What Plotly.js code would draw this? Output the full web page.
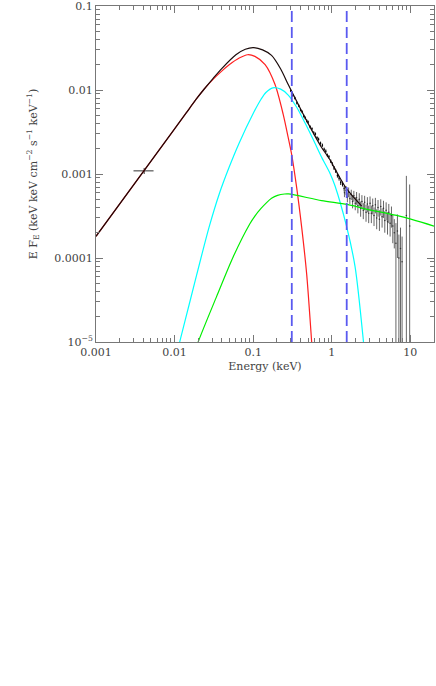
<!DOCTYPE html>
<html>
<head>
<meta charset="utf-8">
<script src="https://cdn.plot.ly/plotly-3.0.1.min.js"></script>
<style>
  body { margin: 0; background: #fff; }
  #plot { width: 436px; height: 686px; }
</style>
</head>
<body>
<div id="plot"></div>
<script>
// model components (keV, keV^2 cm^-2 s^-1 keV^-1)
var diskE = [0.001, 0.01, 0.01413, 0.01862, 0.02399, 0.0306, 0.03981, 0.0495, 0.0664, 0.0849, 0.1052, 0.1419, 0.1897, 0.241, 0.2793, 0.3083, 0.3573, 0.414, 0.4786, 0.5546, 0.6026];
var diskF = [1.81e-4, 3.44e-3, 5.37e-3, 7.67e-3, 0.01035, 0.0133, 0.01679, 0.01995, 0.02399, 0.0263, 0.02512, 0.02004, 0.01161, 0.00513, 0.00271, 0.001726, 6.93e-4, 2.33e-4, 6.56e-5, 1.01e-5, 3.2e-6];

var compE = [0.01047, 0.01164, 0.01585, 0.02158, 0.02748, 0.0369, 0.0494, 0.0664, 0.1, 0.1259, 0.1452, 0.1778, 0.2239, 0.2793, 0.3548, 0.456, 0.581, 0.743, 0.948, 1.099, 1.549, 1.977, 2.518, 2.754];
var compF = [6.8e-6, 1.01e-5, 3.16e-5, 9.86e-5, 2.33e-4, 5.75e-4, 1.202e-3, 2.344e-3, 5.25e-3, 7.76e-3, 9.33e-3, 0.01059, 0.01023, 8.71e-3, 6.31e-3, 4.07e-3, 2.57e-3, 1.585e-3, 1.023e-3, 7.24e-4, 2.34e-4, 7.94e-5, 1.06e-5, 4.0e-6];

var plE = [0.0182, 0.01995, 0.0342, 0.0556, 0.0908, 0.1052, 0.1259, 0.1483, 0.1714, 0.2042, 0.2512, 0.2818, 0.743, 1.574, 2.649, 6.714, 20];
var plF = [7.6e-6, 1.0e-5, 3.47e-5, 1.03e-4, 2.56e-4, 3.16e-4, 3.89e-4, 4.57e-4, 5.13e-4, 5.56e-4, 5.78e-4, 5.79e-4, 4.83e-4, 4.34e-4, 3.85e-4, 3.21e-4, 2.4e-4];

var totE = [0.001, 0.01, 0.01413, 0.01862, 0.02399, 0.0306, 0.03981, 0.0603, 0.0794, 0.1, 0.1318, 0.1714, 0.2239, 0.2793, 0.3083, 0.456, 0.581, 0.743, 0.948, 1.211, 1.574, 2.404];
var totF = [1.81e-4, 3.44e-3, 5.37e-3, 7.67e-3, 0.01035, 0.0136, 0.018, 0.0263, 0.03055, 0.032, 0.030, 0.0258, 0.01778, 0.01161, 0.00966, 0.0047, 0.00309, 0.00207, 0.00148, 9.75e-4, 6.5e-4, 4.15e-4];

// optical/UV point
var uvE = [0.0041];
var uvF = [1.09e-3];
var uvElo = [0.0011];
var uvEhi = [0.0013];
var uvErr = [0.00009];

// soft X-ray data
var softE = [0.30, 0.32, 0.34, 0.36, 0.38, 0.40, 0.42, 0.44, 0.46, 0.48, 0.50, 0.53, 0.56, 0.59, 0.62, 0.65, 0.68, 0.72, 0.76, 0.80, 0.84, 0.88, 0.92, 0.97, 1.02, 1.07, 1.12, 1.18, 1.24, 1.30, 1.37, 1.44];
var softF = [9.8e-3, 8.6e-3, 8.0e-3, 7.0e-3, 6.5e-3, 5.8e-3, 5.5e-3, 4.9e-3, 4.65e-3, 4.3e-3, 4.15e-3, 3.65e-3, 3.45e-3, 3.1e-3, 3.0e-3, 2.7e-3, 2.6e-3, 2.33e-3, 2.2e-3, 1.97e-3, 1.87e-3, 1.67e-3, 1.6e-3, 1.42e-3, 1.31e-3, 1.18e-3, 1.09e-3, 9.6e-4, 8.9e-4, 7.9e-4, 7.6e-4, 6.7e-4];
var softErr = [3.5e-4, 3.0e-4, 3.0e-4, 2.7e-4, 2.5e-4, 2.3e-4, 2.2e-4, 2.0e-4, 1.9e-4, 1.8e-4, 1.7e-4, 1.5e-4, 1.4e-4, 1.3e-4, 1.2e-4, 1.1e-4, 1.1e-4, 1.0e-4, 1.0e-4, 9e-5, 9e-5, 8e-5, 8e-5, 7e-5, 7e-5, 6.5e-5, 6e-5, 5.5e-5, 5.5e-5, 5e-5, 5e-5, 5e-5];

// hard X-ray data
var hardE = [1.45, 1.52, 1.58, 1.64, 1.70, 1.77, 1.84, 1.91, 1.99, 2.07, 2.15, 2.24, 2.33, 2.42, 2.52, 2.62, 2.73, 2.84, 2.95, 3.07, 3.19, 3.32, 3.45, 3.59, 3.73, 3.88, 4.04, 4.20, 4.37, 4.55, 4.73, 4.92, 5.12, 5.32, 5.53, 5.75, 5.98, 6.25, 6.55, 6.85, 7.15, 7.5, 7.85, 8.9, 9.8];
var hardF = [6.0e-4, 6.4e-4, 5.3e-4, 6.1e-4, 5.1e-4, 5.7e-4, 4.7e-4, 5.5e-4, 4.5e-4, 5.2e-4, 4.2e-4, 5.0e-4, 3.9e-4, 4.7e-4, 3.7e-4, 4.6e-4, 3.5e-4, 4.4e-4, 3.4e-4, 4.5e-4, 3.4e-4, 4.2e-4, 3.2e-4, 4.3e-4, 3.0e-4, 4.0e-4, 2.9e-4, 4.1e-4, 3.1e-4, 3.9e-4, 2.8e-4, 3.7e-4, 2.7e-4, 3.5e-4, 2.6e-4, 3.2e-4, 2.4e-4, 2.0e-4, 1.5e-4, 2.1e-4, 1.0e-4, 1.3e-4, 0.9e-4, 3.2e-4, 2.4e-4];
var hardUp = [0.7e-4, 0.8e-4, 0.7e-4, 0.8e-4, 0.7e-4, 0.8e-4, 0.8e-4, 0.8e-4, 0.8e-4, 0.9e-4, 0.8e-4, 0.9e-4, 0.8e-4, 0.9e-4, 0.8e-4, 0.9e-4, 0.8e-4, 0.9e-4, 0.8e-4, 0.9e-4, 0.8e-4, 0.9e-4, 0.8e-4, 0.9e-4, 0.8e-4, 0.9e-4, 0.8e-4, 0.9e-4, 0.8e-4, 0.9e-4, 0.8e-4, 0.9e-4, 0.8e-4, 0.9e-4, 0.8e-4, 0.9e-4, 0.9e-4, 0.9e-4, 1.1e-4, 1.2e-4, 0.9e-4, 1.0e-4, 0.9e-4, 6.3e-4, 5.1e-4];
var hardDown = [0.7e-4, 0.8e-4, 0.7e-4, 0.8e-4, 0.7e-4, 0.8e-4, 0.8e-4, 0.8e-4, 0.8e-4, 0.9e-4, 0.8e-4, 0.9e-4, 0.8e-4, 0.9e-4, 0.8e-4, 0.9e-4, 0.8e-4, 0.9e-4, 0.8e-4, 0.9e-4, 0.8e-4, 0.9e-4, 0.8e-4, 0.9e-4, 0.8e-4, 0.9e-4, 0.8e-4, 0.9e-4, 0.8e-4, 0.9e-4, 0.8e-4, 0.9e-4, 0.8e-4, 0.9e-4, 0.8e-4, 0.9e-4, 0.9e-4, 0.7e-4, 1.49e-4, 1.1e-4, 0.99e-4, 1.29e-4, 0.89e-4, 3.19e-4, 2.39e-4];

// band edges
var bandE = [0.31, 1.55];

var yTicks = [1e-5, 1e-4, 1e-3, 0.01, 0.1];
var yTickText = ["10<sup>\u22125</sup>", "0.0001", "0.001", "0.01", "0.1"];
var xTicks = [0.001, 0.01, 0.1, 1, 10];
var xTickText = ["0.001", "0.01", "0.1", "1", "10"];

function minors(lo, hi) {
  var out = [];
  for (var d = lo; d < hi; d++) {
    for (var k = 2; k <= 9; k++) out.push(k * Math.pow(10, d));
  }
  return out;
}

var axisColor = "#777";

var data = [
  {
    x: uvE, y: uvF, mode: "markers", marker: { size: 1, color: "#333" },
    error_x: { type: "data", symmetric: false, array: uvEhi, arrayminus: uvElo, color: "#333", thickness: 1, width: 0 },
    error_y: { type: "data", array: uvErr, color: "#333", thickness: 1, width: 0 }
  },
  {
    x: softE, y: softF, mode: "markers", marker: { size: 1.5, color: "#000" },
    error_y: { type: "data", array: softErr, color: "#111", thickness: 1, width: 0 }
  },
  {
    x: hardE, y: hardF, mode: "markers", marker: { size: 1.5, color: "#333" },
    error_y: { type: "data", symmetric: false, array: hardUp, arrayminus: hardDown, color: "#666", thickness: 1, width: 0 }
  },
  { x: diskE, y: diskF, mode: "lines", line: { color: "#ff2020", width: 1.2, shape: "spline", smoothing: 0.8 } },
  { x: totE, y: totF, mode: "lines", line: { color: "#1a0a0a", width: 1.2, shape: "spline", smoothing: 0.8 } },
  { x: compE, y: compF, mode: "lines", line: { color: "#00ffff", width: 1.2, shape: "spline", smoothing: 0.8 } },
  { x: plE, y: plF, mode: "lines", line: { color: "#00ee00", width: 1.2, shape: "spline", smoothing: 0.8 } }
];

var shapes = bandE.map(function (e) {
  return {
    type: "line", xref: "x", yref: "paper", x0: e, x1: e, y0: 0, y1: 1,
    line: { color: "#5a5af0", width: 1.8, dash: "11px,5px" }
  };
});

var layout = {
  width: 436,
  height: 686,
  margin: { l: 96, r: 2, t: 6, b: 344 },
  paper_bgcolor: "#fff",
  plot_bgcolor: "#fff",
  showlegend: false,
  font: { family: "DejaVu Serif", size: 11, color: "#444" },
  shapes: shapes,
  xaxis: {
    type: "log",
    range: [-3.00005, 1.301],
    tickmode: "array",
    tickvals: xTicks,
    ticktext: xTickText,
    ticks: "inside",
    ticklen: 7,
    tickcolor: axisColor,
    ticklabeloverflow: "allow",
    showline: true,
    linecolor: axisColor,
    mirror: "allticks",
    showgrid: false,
    zeroline: false,
    minor: { tickmode: "array", tickvals: minors(-3, 2), ticks: "inside", ticklen: 4, tickcolor: axisColor, showgrid: false },
    title: { text: "Energy (keV)", font: { family: "DejaVu Serif", size: 11, color: "#444" }, standoff: 4 }
  },
  yaxis: {
    type: "log",
    range: [-5.00005, -0.99995],
    tickmode: "array",
    tickvals: yTicks,
    ticktext: yTickText,
    ticks: "inside",
    ticklen: 7,
    tickcolor: axisColor,
    ticklabeloverflow: "allow",
    showline: true,
    linecolor: axisColor,
    mirror: "allticks",
    showgrid: false,
    zeroline: false,
    minor: { tickmode: "array", tickvals: minors(-5, -1), ticks: "inside", ticklen: 4, tickcolor: axisColor, showgrid: false },
    title: {
      text: "E F<sub>E</sub> (keV keV cm<sup>\u22122</sup> s<sup>\u22121</sup> keV<sup>\u22121</sup>)",
      font: { family: "DejaVu Serif", size: 11, color: "#444" },
      standoff: 14
    }
  }
};

Plotly.newPlot("plot", data, layout, { displayModeBar: false, staticPlot: true });
</script>
</body>
</html>
